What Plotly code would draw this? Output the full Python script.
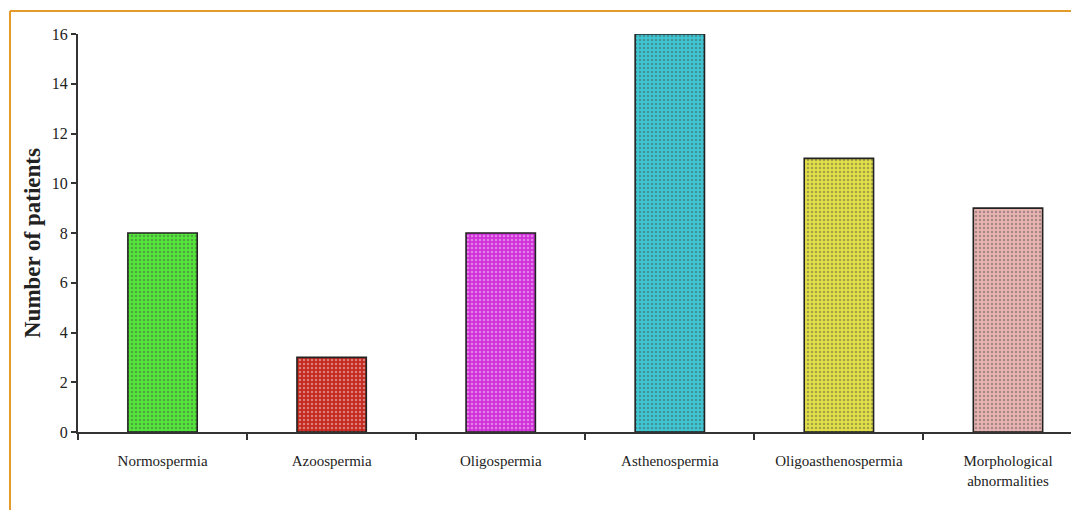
import plotly.graph_objects as go

categories = ["Normospermia", "Azoospermia", "Oligospermia", "Asthenospermia",
              "Oligoasthenospermia", "Morphological<br>abnormalities"]
patients = [8, 3, 8, 16, 11, 9]
bar_colors = ["#55e63c", "#c42a1f", "#d030d8", "#40c6d2", "#e2e048", "#e8b4b2"]
y_ticks = [0, 2, 4, 6, 8, 10, 12, 14, 16]

OFF = 8  # page body margin
W, H = 1079 - OFF, 510 - OFF
L, T, B, R = 78 - OFF, 34 - OFF, 78, 0
pw, ph = W - L - R, H - T - B

def px(x):
    return (x - OFF - L) / pw

def py(y):
    return (H - B - (y - OFF)) / ph

fig = go.Figure(go.Bar(
    x=categories, y=patients, width=0.41,
    marker=dict(color=bar_colors, line=dict(color="#222", width=1.6),
                pattern=dict(shape=".", fgcolor="#333", fgopacity=0.4, size=4, solidity=0.3)),
))

font_serif = "Liberation Serif, Times New Roman, serif"
fig.update_layout(
    width=W, height=H, margin=dict(l=L, r=R, t=T, b=B),
    paper_bgcolor="white", plot_bgcolor="white", showlegend=False,
    font=dict(family=font_serif, color="#222", size=14),
    xaxis=dict(range=[-0.5, 5.42], showline=True, linecolor="#333", linewidth=2,
               ticks="outside", tickson="boundaries", ticklen=6, tickwidth=1.5, tickcolor="#333",
               ticklabelstandoff=14,
               showgrid=False, tickfont=dict(size=15, family=font_serif)),
    yaxis=dict(range=[0, 16], tickvals=y_ticks, showline=True, linecolor="#333", linewidth=2,
               ticks="outside", ticklen=5, tickwidth=1.5, tickcolor="#333", showgrid=False,
               zeroline=False, tickfont=dict(size=16, family=font_serif)),
    annotations=[dict(text="<b>Number of patients</b>", textangle=-90, xref="paper", yref="paper",
                      x=px(32), y=py(243), xanchor="center", yanchor="middle", showarrow=False,
                      font=dict(size=23, family=font_serif, color="#222"))],
    shapes=[
        dict(type="line", xref="paper", yref="paper", x0=px(10), x1=px(1095), y0=py(11), y1=py(11),
             line=dict(color="#e39b2c", width=2)),
        dict(type="line", xref="paper", yref="paper", x0=px(10), x1=px(10), y0=py(11), y1=py(520),
             line=dict(color="#e39b2c", width=2)),
    ],
)

fig.write_html("out.html")
